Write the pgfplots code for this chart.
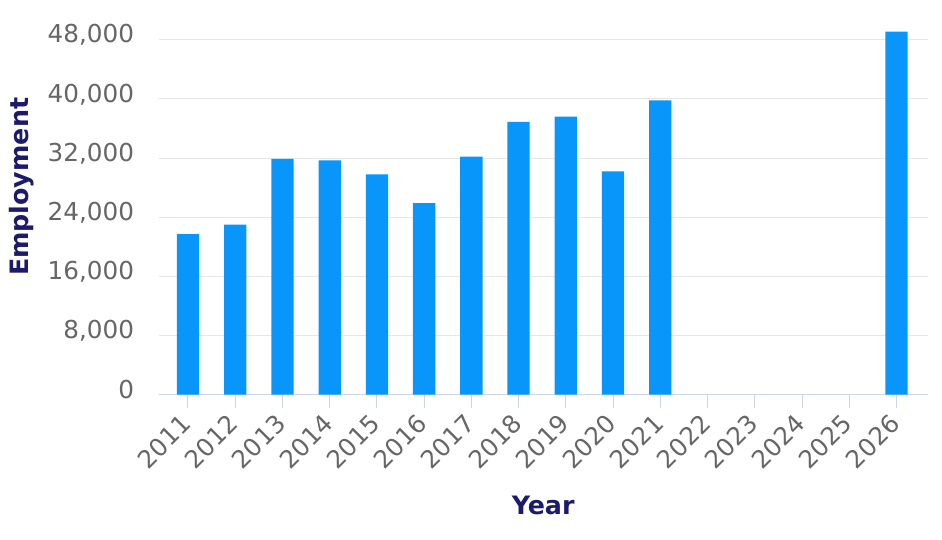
\documentclass[border=0pt]{standalone}
\usepackage{pgfplots}
\pgfplotsset{compat=1.18}
\usepackage{fontspec}
\setmainfont{DejaVu Sans}
\definecolor{barblue}{HTML}{0896FA}
\definecolor{navy}{HTML}{1C1A6B}
\definecolor{gridc}{HTML}{E6E6E6}
\definecolor{axc}{HTML}{CCD6EB}
\definecolor{tickc}{HTML}{666666}
\begin{document}
\begin{tikzpicture}
\path[use as bounding box] (-119pt,-108.4pt) rectangle (587.5pt,295.9pt);
\begin{axis}[
  scale only axis, width=576.75pt, height=277.1pt,
  xmin=-0.62, xmax=15.66, ymin=0, ymax=50000,
  axis lines*=left,
  y axis line style={draw=none},
  x axis line style={draw=axc, line width=0.9pt},
  ytick={0,8000,16000,24000,32000,40000,48000},
  xtick={0,...,15},
  xticklabels={2011,2012,2013,2014,2015,2016,2017,2018,2019,2020,2021,2022,2023,2024,2025,2026},
  ymajorgrids, grid style={draw=gridc, line width=0.75pt},
  tick align=outside, major tick length=10pt,
  x tick style={draw=axc, line width=0.75pt},
  y tick style={draw=none},
  scaled y ticks=false,
  /pgf/number format/.cd, 1000 sep={,}, assume math mode=true, /pgfplots/.cd,
  ticklabel style={font=\fontsize{18.5}{22}\selectfont, text=tickc},
  yticklabel style={anchor=east, inner sep=0pt, xshift=-8.3pt, yshift=3.5pt},
  xticklabel style={xshift=-1pt, yshift=-8.5pt, rotate=45, anchor=east, inner sep=0pt},
  every axis x label/.style={at={(rel axis cs:0.5,0)}, anchor=center, yshift=-83pt,
    font=\bfseries\fontsize{19}{22}\selectfont, text=navy},
  every axis y label/.style={at={(rel axis cs:0,0.562)}, xshift=-103pt, anchor=center, rotate=90,
    font=\bfseries\fontsize{19}{22}\selectfont, text=navy},
  xlabel={Year}, ylabel={Employment},
]
\addplot[ybar, bar width=16.7pt, fill=barblue, draw=none] coordinates {
  (0,21700) (1,23000) (2,31900) (3,31700) (4,29800) (5,25900)
  (6,32200) (7,36900) (8,37600) (9,30200) (10,39800) (15,49100)
};
\end{axis}
\end{tikzpicture}
\end{document}
